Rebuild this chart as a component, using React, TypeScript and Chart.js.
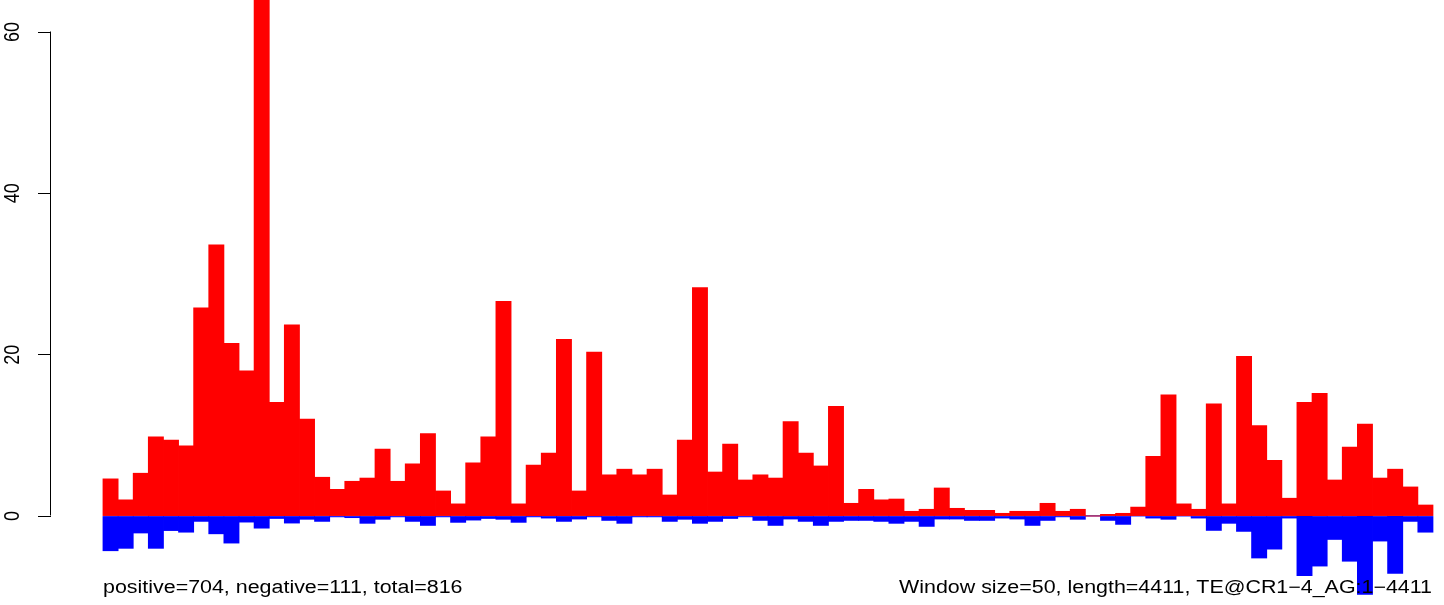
import React, { useEffect, useRef } from "react";
import { Chart, registerables } from "chart.js";

Chart.register(...registerables);

// ---- data ----
const binCount = 88;
const positiveValues: number[] = [
  4.6, 2.0, 5.3, 9.8, 9.4, 8.7, 25.8, 33.6, 21.4, 18.0,
  66, 14.1, 23.7, 12.0, 4.8, 3.3, 4.3, 4.7, 8.3, 4.3,
  6.45, 10.2, 3.1, 1.5, 6.6, 9.8, 26.6, 1.5, 6.3, 7.8,
  21.9, 3.1, 20.3, 5.1, 5.8, 5.1, 5.8, 2.6, 9.4, 28.3,
  5.45, 8.9, 4.46, 5.1, 4.7, 11.7, 7.8, 6.2, 13.6, 1.57,
  3.3, 2.0, 2.1, 0.58, 0.83, 3.47, 0.95, 0.7, 0.7, 0.33,
  0.58, 0.58, 1.57, 0.58, 0.83, 0, 0.2, 0.33, 1.1, 7.4,
  15.0, 1.5, 0.83, 13.9, 1.5, 19.8, 11.2, 6.9, 2.2, 14.1,
  15.2, 4.46, 8.55, 11.4, 4.7, 5.8, 3.6, 1.36,
];
const negativeValues: number[] = [
  -4.3, -4.0, -2.1, -4.0, -1.8, -2.0, -0.66, -2.2, -3.35, -0.75,
  -1.5, -0.3, -0.87, -0.4, -0.66, -0.1, -0.2, -0.9, -0.4, -0.1,
  -0.66, -1.16, -0.1, -0.78, -0.5, -0.3, -0.4, -0.78, -0.1, -0.25,
  -0.66, -0.37, -0.1, -0.54, -0.9, -0.1, -0.1, -0.66, -0.4, -0.9,
  -0.66, -0.3, -0.1, -0.54, -1.16, -0.37, -0.66, -1.16, -0.66, -0.54,
  -0.54, -0.66, -0.9, -0.66, -1.28, -0.37, -0.37, -0.54, -0.54, -0.25,
  -0.37, -1.16, -0.54, -0.1, -0.4, 0, -0.54, -1.03, 0, -0.25,
  -0.4, 0, -0.25, -1.78, -0.9, -1.9, -5.2, -4.1, -0.25, -7.4,
  -6.2, -2.9, -5.6, -9.7, -3.1, -7.1, -0.66, -2.0,
];
const yTickValues: number[] = [0, 20, 40, 60];
const yMin = -11.03;
const yMax = 63.97;
const xMin = -3.44;
const xMax = 88.73;
const leftCaption = "positive=704, negative=111, total=816";
const rightCaption = "Window size=50, length=4411, TE@CR1\u22124_AG:1\u22124411";

const FONT = "'Liberation Sans', Arial, Helvetica, sans-serif";
const STRETCH = 1.19;

const rPlotPlugin = {
  id: "rPlot",
  beforeDatasetsDraw(chart: any) {
    const { ctx, scales } = chart;
    const x = scales.x;
    const y = scales.y;
    const y0 = Math.round(y.getPixelForValue(0));
    const xa = x.getPixelForValue(0);
    const xb = x.getPixelForValue(binCount);
    ctx.save();
    ctx.fillStyle = "#a0a0a0";
    ctx.fillRect(xa, y0 - 1, xb - xa, 1);
    ctx.restore();
  },
  afterDraw(chart: any) {
    const { ctx, scales } = chart;
    const y = scales.y;
    const axisX = chart.chartArea.left - 0.5;
    ctx.save();
    ctx.strokeStyle = "#000";
    ctx.lineWidth = 1;
    ctx.beginPath();
    ctx.moveTo(axisX, Math.round(y.getPixelForValue(yTickValues[yTickValues.length - 1])) - 0.5);
    ctx.lineTo(axisX, Math.round(y.getPixelForValue(yTickValues[0])) - 0.5);
    ctx.stroke();
    ctx.fillStyle = "#000";
    ctx.font = `18px ${FONT}`;
    ctx.textAlign = "center";
    ctx.textBaseline = "middle";
    for (const v of yTickValues) {
      const py = y.getPixelForValue(v);
      ctx.save();
      ctx.translate(13, py);
      ctx.scale(STRETCH, 1);
      ctx.rotate(-Math.PI / 2);
      ctx.fillText(String(v), 0, 0);
      ctx.restore();
    }
    ctx.textBaseline = "alphabetic";
    ctx.save();
    ctx.translate(103, 593);
    ctx.scale(STRETCH, 1);
    ctx.textAlign = "left";
    ctx.fillText(leftCaption, 0, 0);
    ctx.restore();
    ctx.save();
    ctx.translate(1432, 593);
    ctx.scale(STRETCH, 1);
    ctx.textAlign = "right";
    ctx.fillText(rightCaption, 0, 0);
    ctx.restore();
    ctx.restore();
  },
};

export default function App() {
  const canvasRef = useRef<HTMLCanvasElement | null>(null);

  useEffect(() => {
    if (!canvasRef.current) return;
    const posData = positiveValues.map((v, i) => ({ x: i + 0.5, y: v }));
    const negData = negativeValues.map((v, i) => ({ x: i + 0.5, y: v }));
    const chart = new Chart(canvasRef.current, {
      type: "bar",
      data: {
        datasets: [
          {
            label: "positive",
            data: posData,
            backgroundColor: "#ff0000",
            borderWidth: 0,
            grouped: false,
            barPercentage: 1,
            categoryPercentage: 1,
            inflateAmount: 0.4,
          } as any,
          {
            label: "negative",
            data: negData,
            backgroundColor: "#0000ff",
            borderWidth: 0,
            grouped: false,
            barPercentage: 1,
            categoryPercentage: 1,
            inflateAmount: 0.4,
          } as any,
        ],
      },
      options: {
        animation: false,
        responsive: true,
        maintainAspectRatio: false,
        layout: { padding: 0 },
        plugins: {
          legend: { display: false },
          tooltip: { enabled: false },
          title: { display: false },
        },
        scales: {
          x: {
            type: "linear",
            display: false,
            offset: false,
            bounds: "ticks",
            min: xMin,
            max: xMax,
            grid: { offset: false },
          },
          y: {
            type: "linear",
            min: yMin,
            max: yMax,
            afterBuildTicks: (scale: any) => {
              scale.ticks = yTickValues.map((v) => ({ value: v }));
            },
            afterFit: (scale: any) => {
              scale.width = 51;
            },
            ticks: { display: false },
            border: { display: false },
            grid: {
              drawOnChartArea: false,
              drawTicks: true,
              tickLength: 13,
              tickColor: "#000",
              tickWidth: 1,
            },
          },
        },
      } as any,
      plugins: [rPlotPlugin],
    });
    return () => chart.destroy();
  }, []);

  return (
    <div
      style={{
        position: "fixed",
        left: 0,
        top: 0,
        width: 1444,
        height: 605,
        background: "#fff",
      }}
    >
      <canvas ref={canvasRef} />
    </div>
  );
}
